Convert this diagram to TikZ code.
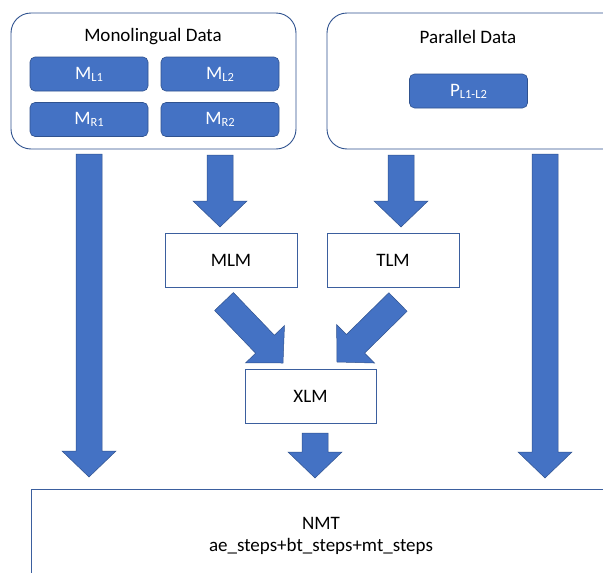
\documentclass[tikz,border=0pt]{standalone}
\usepackage{fontspec}
\setmainfont{Carlito}
\usetikzlibrary{calc}
\definecolor{bfill}{HTML}{4472C4}
\definecolor{bline}{HTML}{2F528F}
\definecolor{boxline}{HTML}{3B5F9E}
\newcommand\sbs[1]{\raisebox{-2pt}{\fontsize{12.5}{13}\selectfont #1}}
\newcommand\blockarrow[2]{%
  \filldraw[arrowstyle]
    ($(#1)!13pt!90:(#2)$) --
    ($($(#2)!26pt!(#1)$)!13pt!-90:(#1)$) --
    ($($(#2)!26pt!(#1)$)!27pt!-90:(#1)$) --
    (#2) --
    ($($(#2)!26pt!(#1)$)!27pt!90:(#1)$) --
    ($($(#2)!26pt!(#1)$)!13pt!90:(#1)$) --
    ($(#1)!13pt!-90:(#2)$) -- cycle;}
\tikzset{
  arrowstyle/.style={fill=bfill, draw=bline, line width=0.5pt, line join=miter},
  outerbox/.style={draw=bline, line width=0.9pt, rounded corners=20pt, fill=white},
  databox/.style={draw=bline, line width=0.6pt, fill=bfill, rounded corners=5pt, text=white,
    minimum width=118pt, minimum height=34pt, inner sep=0pt, font=\fontsize{19}{23}\selectfont},
  modelbox/.style={draw=boxline, line width=0.8pt, fill=white, minimum width=132pt,
    minimum height=54pt, inner sep=0pt, font=\fontsize{19}{23}\selectfont},
  title/.style={inner sep=0pt, font=\fontsize{19}{23}\selectfont},
}
\begin{document}
\begin{tikzpicture}[x=1pt,y=-1pt]
\clip (0,0) rectangle (603,573);
\fill[white] (0,0) rectangle (603,573);
% outer data boxes
\draw[outerbox] (11,13) rectangle (296,149);
\draw[outerbox] (327,13) rectangle (640,149);
\node[title] (monot) at (153,37) {Monolingual Data};
\node[title] (parat) at (468,37) {Parallel Data};
% data items
\node[databox] (ML1) at (89,74) {M\sbs{L1}};
\node[databox] (ML2) at (220,74) {M\sbs{L2}};
\node[databox] (MR1) at (89,119.5) {M\sbs{R1}};
\node[databox] (MR2) at (220,119.5) {M\sbs{R2}};
\node[databox] (PL) at (468.5,91) {P\sbs{L1-L2}};
% models
\node[modelbox] (MLM) at (231,260) {MLM};
\node[modelbox] (TLM) at (393,260) {TLM};
\node[modelbox, minimum width=131pt] (XLM) at (310.5,396) {XLM};
% NMT
\draw[draw=boxline, line width=0.8pt, fill=white] (31,700) -- (31,489) -- (700,489);
\node[title, align=center] (NMT) at (321,535.5) {NMT\\[-1pt]ae\_steps+bt\_steps+mt\_steps};
% arrow end points
\coordinate (a1s) at (89,154);  \coordinate (a1e) at (89,477);
\coordinate (a2s) at (220,155); \coordinate (a2e) at (220,227);
\coordinate (a3s) at (401,155); \coordinate (a3e) at (401,227);
\coordinate (a4s) at (545,154); \coordinate (a4e) at (545,478);
\coordinate (a5s) at (224,301.5); \coordinate (a5e) at (283,363);
\coordinate (a6s) at (398,302); \coordinate (a6e) at (337,362);
\coordinate (a7s) at (315,433); \coordinate (a7e) at (315,478);
\blockarrow{a1s}{a1e}
\blockarrow{a2s}{a2e}
\blockarrow{a3s}{a3e}
\blockarrow{a4s}{a4e}
\blockarrow{a5s}{a5e}
\blockarrow{a6s}{a6e}
\blockarrow{a7s}{a7e}
\end{tikzpicture}
\end{document}
